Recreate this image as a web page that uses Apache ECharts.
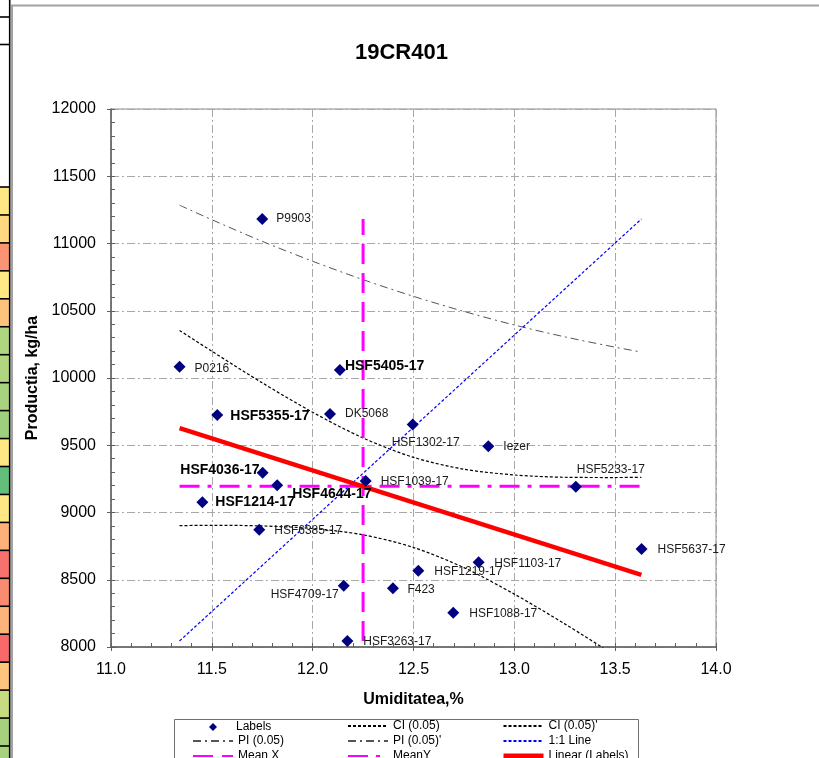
<!DOCTYPE html>
<html><head><meta charset="utf-8">
<script src="https://cdn.jsdelivr.net/npm/echarts@6/dist/echarts.min.js"></script>
<style>html,body{margin:0;padding:0;background:#fff;}#c{width:819px;height:758px;}</style>
</head><body><div id="c"></div>
<script>
// ---------- data ----------
const names = ['P9903','P0216','HSF5405-17','HSF5355-17','DK5068','HSF1302-17','Iezer','HSF4036-17','HSF4644-17','HSF1039-17',
  'HSF5233-17','HSF1214-17','HSF6385-17','HSF5637-17','HSF1103-17','HSF1219-17','HSF4709-17','F423','HSF1088-17','HSF3263-17'];
const xVals = [11.75,11.34,12.135,11.527,12.086,12.496,12.871,11.752,11.824,12.263,
  13.305,11.453,11.735,13.631,12.823,12.524,12.154,12.398,12.697,12.172];
const yVals = [11182,10084,10059,9725,9732,9654,9492,9296,9202,9234,
  9192,9076,8872,8729,8630,8567,8456,8436,8255,8045];
const curveX  = [11.34,11.5,11.75,12.0,12.25,12.5,12.75,13.0,13.25,13.5,13.63];
const ciUpper = [10354,10199,9964,9745,9554,9410,9322,9279,9262,9260,9262];
const ciLower = [8902,8905,8900,8881,8834,8740,8590,8393,8172,7936,7810];
const piUpper = [11285,11177,11016,10868,10731,10607,10495,10394,10306,10229,10193];
const piLower = [7971,7927,7848,7758,7657,7543,7417,7278,7128,6967,6879];
const fitX = [11.34,13.63];      const fitY = [9628,8536];
const oneX = [11.34,13.63];      const oneY = [8045,11182];
const meanXX = [12.25,12.25];    const meanXY = [8045,11182];
const meanYX = [11.34,13.63];    const meanYY = [9196,9196];
const xTickVals = [11.0,11.5,12.0,12.5,13.0,13.5,14.0];
const yTickVals = [8000,8500,9000,9500,10000,10500,11000,11500,12000];

// ---------- styles (not data) ----------
const FONT = "'Liberation Sans', Arial, sans-serif";
const boldLabels = ['HSF5405-17','HSF5355-17','HSF4036-17','HSF4644-17','HSF1214-17'];
const labelPlace = {
  'P9903':['right',8,0,0], 'P0216':['right',9,0,1.5], 'HSF5405-17':['right',-1,0,-4],
  'HSF5355-17':['right',7,0,1], 'DK5068':['right',9,0,0], 'HSF1302-17':['bottom',6,13,0],
  'Iezer':['right',9,0,0], 'HSF4036-17':['left',-3,0,-3], 'HSF4644-17':['right',9,0,9],
  'HSF1039-17':['right',9,0,1], 'HSF5233-17':['top',5,35,0], 'HSF1214-17':['right',7,0,0],
  'HSF6385-17':['right',9,0,1], 'HSF5637-17':['right',10,0,1], 'HSF1103-17':['right',9.5,0,1],
  'HSF1219-17':['right',10,0,1], 'HSF4709-17':['left',-1,0,9], 'F423':['right',8.5,0,1],
  'HSF1088-17':['right',10,0,1], 'HSF3263-17':['right',10,0,1]
};
const stripColors = ['#FFE783','#FFD880','#FA9473','#FFE984','#FDC37D','#B0D580','#B2D680','#A9D27F','#9ECF7E',
  '#FFE783','#63BE7B','#FFE783','#FDB07A','#F8726D','#F98B71','#FCB47A','#F8696B','#FEC57C','#C7DB80','#A6D280','#A6D280'];

const zip = (a,b) => a.map((v,i)=>[v,b[i]]);

const scatterData = names.map((n,i)=>{
  const p = labelPlace[n]; const b = boldLabels.includes(n);
  return {name:n, value:[xVals[i],yVals[i]], label:{
    show:true, formatter:n, position:p[0], distance:p[1], offset:[p[2],p[3]],
    fontFamily:FONT, fontSize:b?14:12, fontWeight:b?'bold':'normal', color:b?'#000':'#1a1a1a'
  }};
});

// decoration graphics: spreadsheet strip and chart frame
const graphics = [];
const cellTop = 187, cellH = 27.95;
stripColors.forEach((c,i)=>{
  graphics.push({type:'rect', shape:{x:0,y:cellTop+i*cellH,width:9.5,height:cellH}, style:{fill:c}, silent:true});
});
for (let i=0;i<=stripColors.length;i++){
  graphics.push({type:'line', shape:{x1:0,y1:cellTop+i*cellH,x2:9.5,y2:cellTop+i*cellH}, style:{stroke:'#000',lineWidth:1.6}, silent:true});
}
graphics.push({type:'line', shape:{x1:0,y1:17,x2:9.5,y2:17}, style:{stroke:'#000',lineWidth:1.6}, silent:true});
graphics.push({type:'line', shape:{x1:0,y1:44.5,x2:9.5,y2:44.5}, style:{stroke:'#000',lineWidth:1.6}, silent:true});
graphics.push({type:'line', shape:{x1:9.7,y1:0,x2:9.7,y2:758}, style:{stroke:'#000',lineWidth:1.6}, silent:true});
graphics.push({type:'line', shape:{x1:12,y1:5,x2:12,y2:758}, style:{stroke:'#a2a2a2',lineWidth:2}, silent:true});
graphics.push({type:'line', shape:{x1:11,y1:5.5,x2:819,y2:5.5}, style:{stroke:'#a2a2a2',lineWidth:2}, silent:true});
// legend frame
graphics.push({type:'rect', shape:{x:174.5,y:719.5,width:464,height:60}, style:{fill:'none',stroke:'#707070',lineWidth:1}, silent:true, z:-1});

const chart = echarts.init(document.getElementById('c'), null, {renderer:'canvas'});
const axisLblFmtX = v => v.toFixed(1);
const legendText = {fontFamily:FONT, fontSize:12, color:'#000', lineHeight:12};
const legendBase = {orient:'vertical', itemWidth:40, itemHeight:12, itemGap:3, padding:0, height:60,
  selectedMode:false, textStyle:legendText, itemStyle:{opacity:0}};

chart.setOption({
  animation:false,
  backgroundColor:'#fff',
  title:{text:'19CR401', left:355, top:42, padding:0,
    textStyle:{fontFamily:FONT, fontSize:22, fontWeight:'bold', color:'#000'}},
  graphic: graphics,
  legend:[
    {orient:'vertical', left:209, top:721, itemWidth:8, itemHeight:8, padding:0, height:60, selectedMode:false,
      textStyle:Object.assign({}, legendText, {padding:[0,0,0,14]}), data:['Labels']},
    Object.assign({}, legendBase, {left:192, top:735, data:['PI (0.05)','Mean X']}),
    Object.assign({}, legendBase, {left:347, top:720, data:['CI (0.05)',"PI (0.05)'",'MeanY']}),
    Object.assign({}, legendBase, {left:501, top:720, data:["CI (0.05)'",'1:1 Line',{name:'Linear (Labels)', lineStyle:{width:5}}]})
  ],
  grid:{left:111, top:109, width:605, height:538, show:true, borderColor:'#8a8a8a', borderWidth:1, outerBoundsMode:'none', containLabel:false},
  xAxis:[{
    type:'value', min:11, max:14, interval:0.5,
    axisLine:{show:true, onZero:false, lineStyle:{color:'#5f5f5f', width:1.5}},
    axisTick:{show:true, inside:true, length:4, lineStyle:{color:'#5f5f5f'}},
    minorTick:{show:true, splitNumber:5, length:4, lineStyle:{color:'#5f5f5f'}},
    axisLabel:{show:true, showMinLabel:true, showMaxLabel:true, margin:15, formatter:axisLblFmtX, fontFamily:FONT, fontSize:16, color:'#000'},
    splitLine:{show:true, lineStyle:{color:'#a8a8a8', width:1, type:[8,3,2,3]}},
    name:'Umiditatea,%', nameLocation:'middle', nameGap:45,
    nameTextStyle:{fontFamily:FONT, fontSize:16, fontWeight:'bold', color:'#000'}
  },{
    type:'value', min:11, max:14, interval:0.5, position:'bottom',
    axisLine:{show:false}, axisLabel:{show:false}, splitLine:{show:false},
    axisTick:{show:true, inside:false, length:4, lineStyle:{color:'#5f5f5f'}}
  }],
  yAxis:[{
    type:'value', min:8000, max:12000, interval:500,
    axisLine:{show:true, onZero:false, lineStyle:{color:'#5f5f5f', width:1.5}},
    axisTick:{show:true, inside:true, length:4, lineStyle:{color:'#5f5f5f'}},
    minorTick:{show:true, splitNumber:5, length:4, lineStyle:{color:'#5f5f5f'}},
    axisLabel:{show:true, showMinLabel:true, showMaxLabel:true, margin:15, formatter:v=>String(v), fontFamily:FONT, fontSize:16, color:'#000'},
    splitLine:{show:true, lineStyle:{color:'#a8a8a8', width:1, type:[8,3,2,3]}},
    name:'Productia, kg/ha', nameLocation:'middle', nameGap:66, nameRotate:90,
    nameTextStyle:{fontFamily:FONT, fontSize:16, fontWeight:'bold', color:'#000'}
  },{
    type:'value', min:8000, max:12000, interval:500, position:'left',
    axisLine:{show:false}, axisLabel:{show:false}, splitLine:{show:false},
    axisTick:{show:true, inside:false, length:4, lineStyle:{color:'#5f5f5f'}}
  }],
  series:[
    {name:'CI (0.05)', type:'line', data:zip(curveX,ciUpper), smooth:0.3, symbol:'none', clip:true, silent:true,
      lineStyle:{color:'#000', width:1.2, type:[3,2]}, itemStyle:{color:'#000'}, z:3},
    {name:"CI (0.05)'", type:'line', data:zip(curveX,ciLower), smooth:0.3, symbol:'none', clip:true, silent:true,
      lineStyle:{color:'#000', width:1.2, type:[3,2]}, itemStyle:{color:'#000'}, z:3},
    {name:'PI (0.05)', type:'line', data:zip(curveX,piUpper), smooth:0.3, symbol:'none', clip:true, silent:true,
      lineStyle:{color:'#555', width:1, type:[8,4,2,4]}, itemStyle:{color:'#555'}, z:3},
    {name:"PI (0.05)'", type:'line', data:zip(curveX,piLower), smooth:0.3, symbol:'none', clip:true, silent:true,
      lineStyle:{color:'#555', width:1, type:[8,4,2,4]}, itemStyle:{color:'#555'}, z:3},
    {name:'1:1 Line', type:'line', data:zip(oneX,oneY), symbol:'none', clip:true, silent:true,
      lineStyle:{color:'#0000ff', width:1.2, type:[3,2]}, itemStyle:{color:'#0000ff'}, z:3},
    {name:'Mean X', type:'line', data:zip(meanXX,meanXY), symbol:'none', clip:true, silent:true,
      lineStyle:{color:'#ff00ff', width:3, type:[20,9]}, itemStyle:{color:'#ff00ff'}, z:4},
    {name:'MeanY', type:'line', data:zip(meanYX,meanYY), symbol:'none', clip:true, silent:true,
      lineStyle:{color:'#ff00ff', width:3, type:[20,8,4,8]}, itemStyle:{color:'#ff00ff'}, z:4},
    {name:'Linear (Labels)', type:'line', data:zip(fitX,fitY), symbol:'none', clip:true, silent:true,
      lineStyle:{color:'#ff0000', width:4.5}, itemStyle:{color:'#ff0000'}, z:5},
    {name:'Labels', type:'scatter', data:scatterData, symbol:'diamond', symbolSize:12, silent:true,
      itemStyle:{color:'#000080', opacity:1}, z:6}
  ]
});
</script></body></html>
